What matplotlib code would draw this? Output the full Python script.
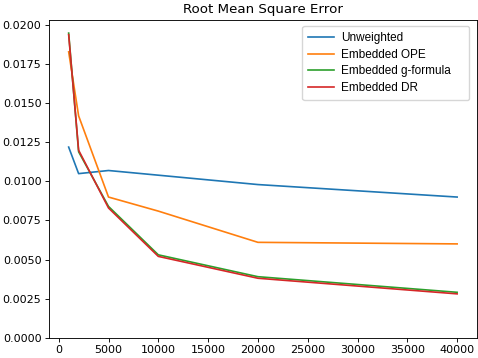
import numpy as np
import matplotlib
matplotlib.use('Agg')
import matplotlib.pyplot as plt

# sample sizes
n = [1000, 2000, 5000, 10000, 20000, 40000]

unweighted = [0.0122, 0.0105, 0.0107, 0.0104, 0.0098, 0.0090]
ope = [0.0183, 0.0142, 0.0090, 0.0081, 0.0061, 0.0060]
gformula = [0.0195, 0.0119, 0.0084, 0.0053, 0.0039, 0.0029]
dr = [0.0194, 0.0120, 0.0083, 0.0052, 0.0038, 0.0028]

s = 0.8  # reference looks like a shrunk default figure
plt.rcParams.update({
    'font.size': 10 * s,
    'lines.linewidth': 1.5 * s,
    'axes.linewidth': 0.8 * s,
    'xtick.major.size': 3.5 * s,
    'ytick.major.size': 3.5 * s,
    'xtick.major.width': 0.8 * s,
    'ytick.major.width': 0.8 * s,
    'xtick.major.pad': 3.5 * s,
    'ytick.major.pad': 3.5 * s,
})

fig = plt.figure(figsize=(4.78, 3.58), dpi=100)
ax = fig.add_axes([0.103, 0.057, 0.894, 0.887])
ax.plot(n, unweighted, label='Unweighted')
ax.plot(n, ope, label='Embedded OPE')
ax.plot(n, gformula, label='Embedded g-formula')
ax.plot(n, dr, label='Embedded DR')
ax.set_ylim(bottom=0)
ax.set_title('Root Mean Square Error', fontsize=12 * s, pad=6 * s)
# legend box is a bit wider than its text in the reference
ax.legend(prop={'family': 'Liberation Sans', 'size': 8.5},
          loc='upper left', bbox_to_anchor=(0.592, 0, 0.390, 0.981),
          mode='expand', borderaxespad=0,
          handlelength=2.2, labelspacing=0.4, borderpad=0.5,
          handletextpad=0.6)
fig.savefig('out.png', dpi=100)
